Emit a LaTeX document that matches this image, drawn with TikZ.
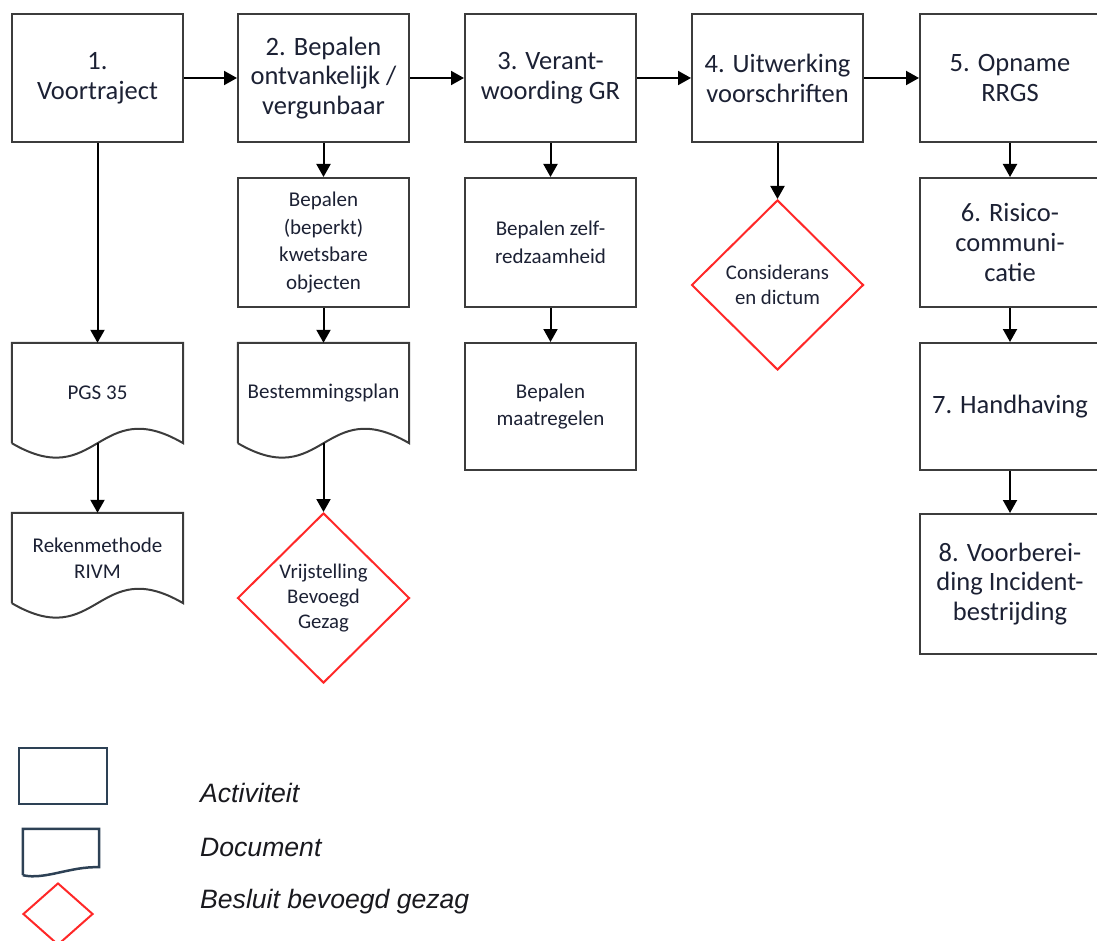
\documentclass[tikz,border=0pt]{standalone}
\usepackage{fontspec}
\setmainfont{Carlito}
\newfontfamily\legfont{Liberation Sans}
\usetikzlibrary{shapes.geometric,arrows.meta,calc}
\definecolor{txt}{RGB}{28,33,52}
\definecolor{boxline}{RGB}{60,60,60}
\definecolor{dred}{RGB}{255,40,40}
\definecolor{legline}{RGB}{45,65,85}
\definecolor{legtxt}{RGB}{25,25,30}
\newcommand{\docoutline}[2]{\draw[docline] (#1.south west) -- (#1.north west) -- (#1.north east) -- (#1.south east) .. controls ($(#1.south)+(0,-#2)$) and ($(#1.south)+(0,#2)$) .. (#1.south west);}
\begin{document}
\begin{tikzpicture}[x=1pt,y=-1pt,
 actbox/.style={draw=boxline,line width=2pt,fill=white,minimum width=171pt,align=center,text=txt,inner sep=2pt},
 big/.style={font=\fontsize{26.5}{29.8}\selectfont},
 small/.style={font=\fontsize{21}{27.5}\selectfont},
 docbody/.style={minimum width=171pt,align=center,text=txt,inner sep=2pt,font=\fontsize{21}{26}\selectfont},
 decision/.style={diamond,draw=dred,line width=2pt,align=center,text=txt,inner sep=0pt,minimum width=172pt,minimum height=170pt,font=\fontsize{20.8}{25}\selectfont},
 conn/.style={line width=2pt,-{Triangle[length=13pt,width=14pt]}},
 docline/.style={draw=boxline,line width=2pt},
 legtext/.style={anchor=west,text=legtxt,font=\legfont\itshape\fontsize{26.6}{30}\selectfont,inner sep=0pt}]
\useasboundingbox (0,0) rectangle (1097,941);

% top row
\node[actbox,big,minimum height=128pt] (b1) at (97.5,78) {1.\\Voortraject};
\node[actbox,big,minimum height=128pt] (b2) at (323.5,78) {2. Bepalen\\ontvankelijk /\\vergunbaar};
\node[actbox,big,minimum height=128pt] (b3) at (550.5,78) {3. Verant-\\woording GR};
\node[actbox,big,minimum height=128pt] (b4) at (777.5,78) {4. Uitwerking\\voorschriften};
\node[actbox,big,minimum height=128pt,minimum width=180pt] (b5) at (1010,78) {5. Opname\\RRGS};

% column 1
\node[docbody,minimum height=100pt] (d1) at (97.5,393) {PGS 35};
\docoutline{d1}{50}
\node[docbody,minimum height=90pt] (d1b) at (97.5,558) {Rekenmethode\\RIVM};
\docoutline{d1b}{50}

% column 2
\node[actbox,small,minimum height=129pt] (b2a) at (323.5,242.5) {Bepalen\\(beperkt)\\kwetsbare\\objecten};
\node[docbody,minimum height=100pt] (d2) at (323.5,393) {Bestemmingsplan};
\docoutline{d2}{50}
\node[decision] (dz2) at (323.5,598) {Vrijstelling\\Bevoegd\\Gezag};

% column 3
\node[actbox,small,minimum height=129pt] (b3a) at (550.5,242.5) {Bepalen zelf-\\redzaamheid};
\node[actbox,small,minimum height=127pt] (b3b) at (550.5,406.5) {Bepalen\\maatregelen};

% column 4
\node[decision] (dz4) at (777.5,285) {Considerans\\en dictum};

% column 5
\node[actbox,big,minimum height=129pt,minimum width=180pt] (b6) at (1010,242.5) {6. Risico-\\communi-\\catie};
\node[actbox,big,minimum height=127pt,minimum width=180pt] (b7) at (1010,406.5) {7. Handhaving};
\node[actbox,big,minimum height=140pt,minimum width=180pt] (b8) at (1010,584) {8. Voorberei-\\ding Incident-\\bestrijding};

% connectors
\draw[conn] (b1) -- (b2);
\draw[conn] (b2) -- (b3);
\draw[conn] (b3) -- (b4);
\draw[conn] (b4) -- (b5);
\draw[conn] (b1.south) -- (d1.north);
\draw[conn] (d1.south) -- (d1b.north);
\draw[conn] (b2) -- (b2a);
\draw[conn] (b2a) -- (d2);
\draw[conn] (d2.south) -- (dz2.north);
\draw[conn] (b3) -- (b3a);
\draw[conn] (b3a) -- (b3b);
\draw[conn] (b4) -- (dz4);
\draw[conn] (b5) -- (b6);
\draw[conn] (b6) -- (b7);
\draw[conn] (b7) -- (b8);

% legend
\node[draw=legline,line width=2.5pt,minimum width=88pt,minimum height=56pt,inner sep=0pt] (lg1) at (63,776) {};
\node[minimum width=76pt,minimum height=46pt,inner sep=0pt] (lg2) at (61,852) {};
\draw[draw=legline,line width=2.5pt] (lg2.south west) -- (lg2.north west) -- (lg2.north east) -- ($(lg2.south east)+(0,-8)$) .. controls ($(lg2.south)+(9,-9)$) and ($(lg2.south)+(-16,5)$) .. (lg2.south west);
\node[diamond,draw=dred,line width=2pt,minimum width=70pt,minimum height=62pt,inner sep=0pt] (lg3) at (58,914) {};
\node[legtext] (lt1) at (200,793) {Activiteit};
\node[legtext] (lt2) at (200,847) {Document};
\node[legtext] (lt3) at (200,902) {Besluit bevoegd gezag};
\end{tikzpicture}
\end{document}
